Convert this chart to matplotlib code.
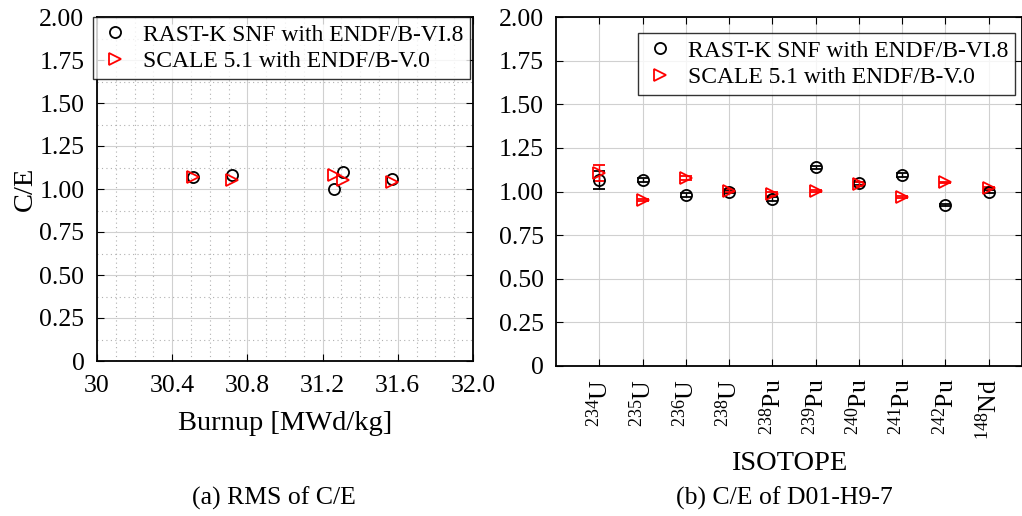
import matplotlib
matplotlib.use("Agg")
import matplotlib.pyplot as plt
from matplotlib.ticker import MultipleLocator, FixedLocator

plt.rcParams["font.family"] = ["Liberation Serif", "DejaVu Serif"]
plt.rcParams["mathtext.fontset"] = "custom"
plt.rcParams["mathtext.rm"] = "Liberation Serif"
plt.rcParams["mathtext.it"] = "Liberation Serif:italic"

# (a) RMS of C/E vs burnup
burnup = [30.51, 30.72, 31.26, 31.31, 31.57]
rms_rastk = [1.07, 1.08, 1.00, 1.10, 1.06]
rms_scale = [1.07, 1.05, 1.08, 1.05, 1.04]

# (b) C/E of D01-H9-7
isotopes = [r"$\mathregular{^{234}U}$", r"$\mathregular{^{235}U}$", r"$\mathregular{^{236}U}$",
            r"$\mathregular{^{238}U}$", r"$\mathregular{^{238}Pu}$", r"$\mathregular{^{239}Pu}$",
            r"$\mathregular{^{240}Pu}$", r"$\mathregular{^{241}Pu}$", r"$\mathregular{^{242}Pu}$",
            r"$\mathregular{^{148}Nd}$"]
ce_rastk = [1.065, 1.065, 0.980, 1.000, 0.957, 1.138, 1.046, 1.095, 0.922, 1.000]
err_rastk = [0.05, 0.01, 0.01, 0.01, 0.01, 0.01, 0.01, 0.01, 0.005, 0.01]
ce_scale = [1.104, 0.951, 1.076, 1.005, 0.986, 1.004, 1.043, 0.967, 1.052, 1.022]
err_scale = [0.045, 0.005, 0.01, 0.01, 0.01, 0.005, 0.01, 0.005, 0.005, 0.005]

lab_rastk = "RAST-K SNF with ENDF/B-VI.8"
lab_scale = "SCALE 5.1 with ENDF/B-V.0"

W, H = 1022, 516
fig = plt.figure(figsize=(W / 100, H / 100), dpi=100)

# left panel
ax1 = fig.add_axes([97 / W, (H - 361) / H, 376 / W, 344 / H])
ax1.plot(burnup, rms_rastk, "o", mfc="none", mec="black", mew=1.3, ms=8, label=lab_rastk)
ax1.plot(burnup, rms_scale, ">", mfc="none", mec="red", mew=1.3, ms=9, label=lab_scale)
ax1.set_xlim(30, 32)
ax1.set_ylim(0, 2)
ax1.xaxis.set_major_locator(FixedLocator([30, 30.4, 30.8, 31.2, 31.6, 32.0]))
ax1.set_xticklabels(["30", "30.4", "30.8", "31.2", "31.6", "32.0"])
ax1.xaxis.set_minor_locator(MultipleLocator(0.1))
ax1.yaxis.set_major_locator(MultipleLocator(0.25))
ax1.yaxis.set_minor_locator(MultipleLocator(0.125))
ax1.set_yticklabels(["0" if v == 0 else f"{v:.2f}" for v in ax1.get_yticks()])
ax1.grid(True, which="major", color="#d0d0d0", lw=0.8)
ax1.grid(True, which="minor", color="#b0b0b0", lw=0.8, ls=(0, (1, 3)))
ax1.tick_params(which="both", direction="in", top=True, right=True, labelsize=18.5)
ax1.tick_params(which="minor", length=0)
ax1.tick_params(which="major", length=5)
ax1.tick_params(axis="x", pad=10)
ax1.tick_params(axis="y", pad=9)
ax1.set_xlabel("Burnup [MWd/kg]", fontsize=20.5, labelpad=10)
ax1.set_ylabel("C/E", fontsize=20.5, labelpad=1)
leg1 = ax1.legend(loc="upper right", fontsize=17, frameon=True, fancybox=False,
                  edgecolor="black", borderaxespad=0.0, bbox_to_anchor=(0.992, 1.0),
                  handletextpad=0.5, borderpad=0.3, labelspacing=0.2, handlelength=1.3)
leg1.get_frame().set_linewidth(1.0)
for s in ax1.spines.values():
    s.set_linewidth(1.3)

# right panel
ax2 = fig.add_axes([556 / W, (H - 366) / H, 466 / W, 349 / H])
xpos = list(range(1, len(isotopes) + 1))
ax2.errorbar(xpos, ce_rastk, yerr=err_rastk, fmt="o", mfc="none", mec="black", mew=1.3,
             ms=8, ecolor="black", elinewidth=1.0, capsize=4, label=lab_rastk)
ax2.errorbar(xpos, ce_scale, yerr=err_scale, fmt=">", mfc="none", mec="red", mew=1.3,
             ms=9, ecolor="red", elinewidth=1.0, capsize=4, label=lab_scale)
ax2.set_xlim(0, 10.77)
ax2.set_ylim(0, 2)
ax2.set_xticks(xpos)
ax2.set_xticklabels(isotopes, rotation=90)
ax2.yaxis.set_major_locator(MultipleLocator(0.25))
ax2.set_yticklabels(["0" if v == 0 else f"{v:.2f}" for v in ax2.get_yticks()])
ax2.grid(True, color="#d0d0d0", lw=0.8)
ax2.tick_params(direction="in", top=True, right=True, labelsize=18.5, length=5)
ax2.tick_params(axis="x", pad=9)
ax2.tick_params(axis="y", pad=9)
ax2.set_xlabel("ISOTOPE", fontsize=20.5, labelpad=8)
handles, labels = ax2.get_legend_handles_labels()
handles = [h[0] for h in handles]
leg2 = ax2.legend(handles, labels, loc="upper right", fontsize=17, frameon=True,
                  fancybox=False, edgecolor="black", borderaxespad=0.0,
                  bbox_to_anchor=(0.985, 0.954),
                  handletextpad=0.5, borderpad=0.3, labelspacing=0.2, handlelength=1.3)
leg2.get_frame().set_linewidth(1.0)
for s in ax2.spines.values():
    s.set_linewidth(1.3)

fig.text(274 / W, 1 - 498 / H, "(a) RMS of C/E", ha="center", va="center", fontsize=18.5)
fig.text(784 / W, 1 - 498 / H, "(b) C/E of D01-H9-7", ha="center", va="center", fontsize=18.5)

fig.savefig("out.png", dpi=100)
